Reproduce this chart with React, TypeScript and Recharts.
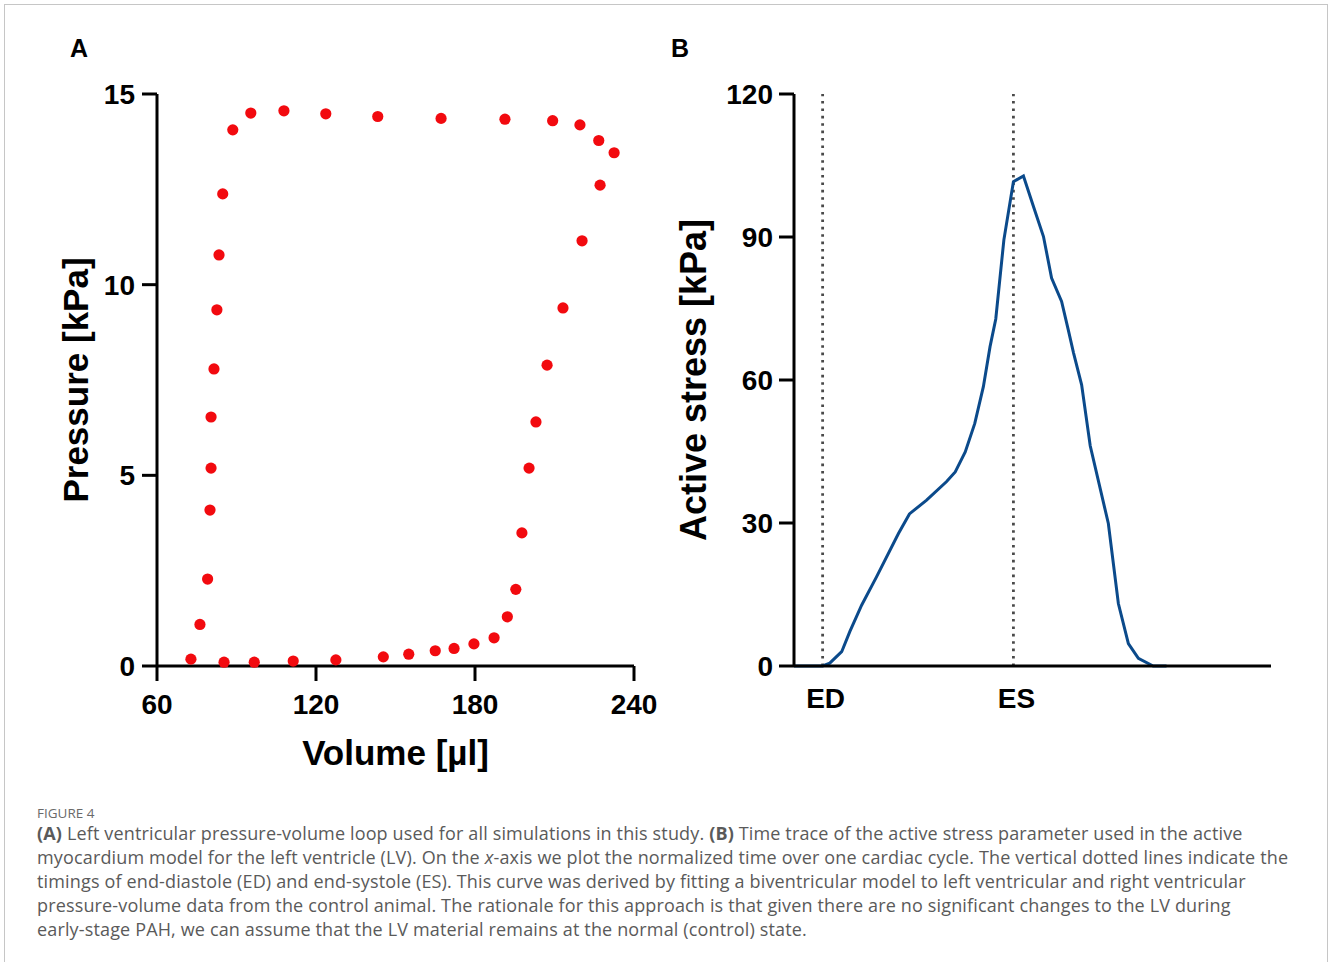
import React from 'react';
import {
  ScatterChart,
  Scatter,
  LineChart,
  Line,
  XAxis,
  YAxis,
  ReferenceLine,
  Label,
} from 'recharts';

// Panel A: pressure-volume loop (loop order)
const loopVolume = [
  72.8, 85.3, 96.7, 111.4, 127.5, 145.4, 155.0, 165.0, 172.1, 179.6, 187.2, 192.2, 195.4,
  197.7, 200.4, 203.0, 207.2, 213.2, 220.4, 227.2, 232.5, 226.7, 219.6, 209.3, 191.3, 167.2,
  143.3, 123.7, 107.9, 95.4, 88.6, 84.8, 83.4, 82.6, 81.5, 80.4, 80.4, 80.0, 79.1, 76.2,
];
const loopPressure = [
  0.18, 0.1, 0.1, 0.13, 0.16, 0.24, 0.31, 0.4, 0.46, 0.58, 0.74, 1.29, 2.01,
  3.49, 5.19, 6.4, 7.89, 9.39, 11.15, 12.61, 13.46, 13.78, 14.19, 14.3, 14.34, 14.36,
  14.41, 14.48, 14.56, 14.5, 14.06, 12.38, 10.78, 9.34, 7.79, 6.53, 5.19, 4.09, 2.28, 1.09,
];
const volumeTicks = [60, 120, 180, 240];
const pressureTicks = [0, 5, 10, 15];

// Panel B: active stress over normalised cycle time
const cycleTime = [
  0, 0.06, 0.075, 0.1, 0.117, 0.142, 0.173, 0.219, 0.242, 0.278, 0.32, 0.338, 0.359,
  0.379, 0.397, 0.411, 0.423, 0.44, 0.46, 0.481, 0.502, 0.523, 0.54, 0.561, 0.575,
  0.586, 0.603, 0.621, 0.659, 0.68, 0.701, 0.722, 0.753, 0.781,
];
const activeStress = [
  0, 0, 0.6, 3.0, 7.2, 12.8, 18.7, 27.8, 31.9, 34.8, 38.7, 40.7, 44.9,
  50.9, 58.6, 67.0, 72.8, 89.4, 101.6, 102.8, 96.4, 90.1, 81.4, 76.5, 70.5,
  65.7, 59.0, 46.2, 29.9, 13.1, 4.7, 1.6, 0, 0,
];
const stressTicks = [0, 30, 60, 90, 120];
const eventTimes = [0.06, 0.46];
const eventNames = ['ED', 'ES'];

const loopData = loopVolume.map((v, i) => ({ v, p: loopPressure[i] }));
const stressData = cycleTime.map((t, i) => ({ t, s: activeStress[i] }));

const FONT = '"Liberation Sans", Arial, Helvetica, sans-serif';
const tickStyle = { fill: '#000', fontSize: 28, fontWeight: 700, fontFamily: FONT };
const axisLine = { stroke: '#000', strokeWidth: 3 };

const verticalTitle = (text: string, dx: number, size: number) => (props: any) => {
  const vb = props.viewBox || {};
  const x = vb.x + dx;
  const y = vb.y + vb.height / 2;
  return (
    <text
      x={x}
      y={y}
      transform={`rotate(-90 ${x} ${y})`}
      textAnchor="middle"
      dominantBaseline="central"
      fontFamily={FONT}
      fontWeight={700}
      fontSize={size}
      fill="#000"
    >
      {text}
    </text>
  );
};

const horizontalTitle = (text: string, dy: number, size: number) => (props: any) => {
  const vb = props.viewBox || {};
  const x = vb.x + vb.width / 2;
  const y = vb.y + dy;
  return (
    <text
      x={x}
      y={y}
      textAnchor="middle"
      dominantBaseline="central"
      fontFamily={FONT}
      fontWeight={700}
      fontSize={size}
      fill="#000"
    >
      {text}
    </text>
  );
};

const Dot = (props: any) => <circle cx={props.cx} cy={props.cy} r={5.6} fill="#f20a0f" />;

const panelLetter: React.CSSProperties = {
  position: 'absolute',
  top: 34,
  fontFamily: FONT,
  fontWeight: 700,
  fontSize: 25,
  color: '#000',
};

const captionLines = [
  <>
    <b>(A)</b> Left ventricular pressure-volume loop used for all simulations in this study. <b>(B)</b> Time trace of the active stress parameter used in the active
  </>,
  <>
    myocardium model for the left ventricle (LV). On the <i>x</i>-axis we plot the normalized time over one cardiac cycle. The vertical dotted lines indicate the
  </>,
  <>
    timings of end-diastole (ED) and end-systole (ES). This curve was derived by fitting a biventricular model to left ventricular and right ventricular
  </>,
  <>
    pressure-volume data from the control animal. The rationale for this approach is that given there are no significant changes to the LV during
  </>,
  <>early-stage PAH, we can assume that the LV material remains at the normal (control) state.</>,
];

export default function App() {
  return (
    <div
      style={{
        position: 'absolute',
        left: 0,
        top: 0,
        width: 1328,
        height: 962,
        overflow: 'hidden',
        background: '#fff',
      }}
    >
      <div
        style={{
          position: 'absolute',
          left: 4,
          top: 4,
          width: 1322,
          height: 1000,
          border: '1px solid #c6c6c6',
        }}
      />

      <div style={{ ...panelLetter, left: 70 }}>A</div>
      <div style={{ ...panelLetter, left: 671 }}>B</div>

      {/* Panel A */}
      <div style={{ position: 'absolute', left: 0, top: 0 }}>
        <ScatterChart width={660} height={800} margin={{ top: 94, right: 26, bottom: 34, left: 57 }}>
          <XAxis
            type="number"
            dataKey="v"
            domain={[60, 240]}
            ticks={volumeTicks}
            height={100}
            tick={tickStyle}
            tickSize={15}
            tickMargin={13}
            axisLine={axisLine}
            tickLine={axisLine}
          >
            <Label content={horizontalTitle('Volume [µl]', 86, 35)} />
          </XAxis>
          <YAxis
            type="number"
            dataKey="p"
            domain={[0, 15]}
            ticks={pressureTicks}
            width={100}
            tick={tickStyle}
            tickSize={15}
            tickMargin={7}
            axisLine={axisLine}
            tickLine={axisLine}
          >
            <Label content={verticalTitle('Pressure [kPa]', 18, 35)} />
          </YAxis>
          <Scatter data={loopData} shape={Dot} isAnimationActive={false} />
        </ScatterChart>
      </div>

      {/* Panel B */}
      <div style={{ position: 'absolute', left: 660, top: 0 }}>
        <LineChart
          width={668}
          height={800}
          data={stressData}
          margin={{ top: 94, right: 57, bottom: 34, left: 34 }}
        >
          <XAxis
            type="number"
            dataKey="t"
            domain={[0, 1]}
            ticks={eventTimes}
            tickFormatter={(v: number) => eventNames[eventTimes.indexOf(v)]}
            height={100}
            tick={{ ...tickStyle, dx: 3 }}
            tickSize={10}
            tickMargin={12}
            tickLine={false}
            axisLine={axisLine}
          />
          <YAxis
            type="number"
            domain={[0, 120]}
            ticks={stressTicks}
            width={100}
            tick={tickStyle}
            tickSize={15}
            tickMargin={6}
            axisLine={axisLine}
            tickLine={axisLine}
          >
            <Label content={verticalTitle('Active stress [kPa]', -1, 36)} />
          </YAxis>
          {eventTimes.map((t) => (
            <ReferenceLine
              key={t}
              x={t}
              stroke="#4a4a4a"
              strokeWidth={2.8}
              strokeDasharray="2.6 4.8"
            />
          ))}
          <Line
            type="linear"
            dataKey="s"
            stroke="#0b4a8b"
            strokeWidth={3}
            dot={false}
            isAnimationActive={false}
          />
        </LineChart>
      </div>

      {/* Caption */}
      <div
        style={{
          position: 'absolute',
          left: 37,
          top: 805,
          fontFamily: '"Open Sans", Lato, sans-serif',
          color: '#5a5a5a',
          whiteSpace: 'nowrap',
        }}
      >
        <div style={{ fontSize: 13.5, lineHeight: '16px', color: '#6a6a6a' }}>FIGURE 4</div>
        {captionLines.map((line, i) => (
          <div key={i} style={{ fontSize: 18, lineHeight: '24px', letterSpacing: 0.15 }}>
            {line}
          </div>
        ))}
      </div>
    </div>
  );
}
